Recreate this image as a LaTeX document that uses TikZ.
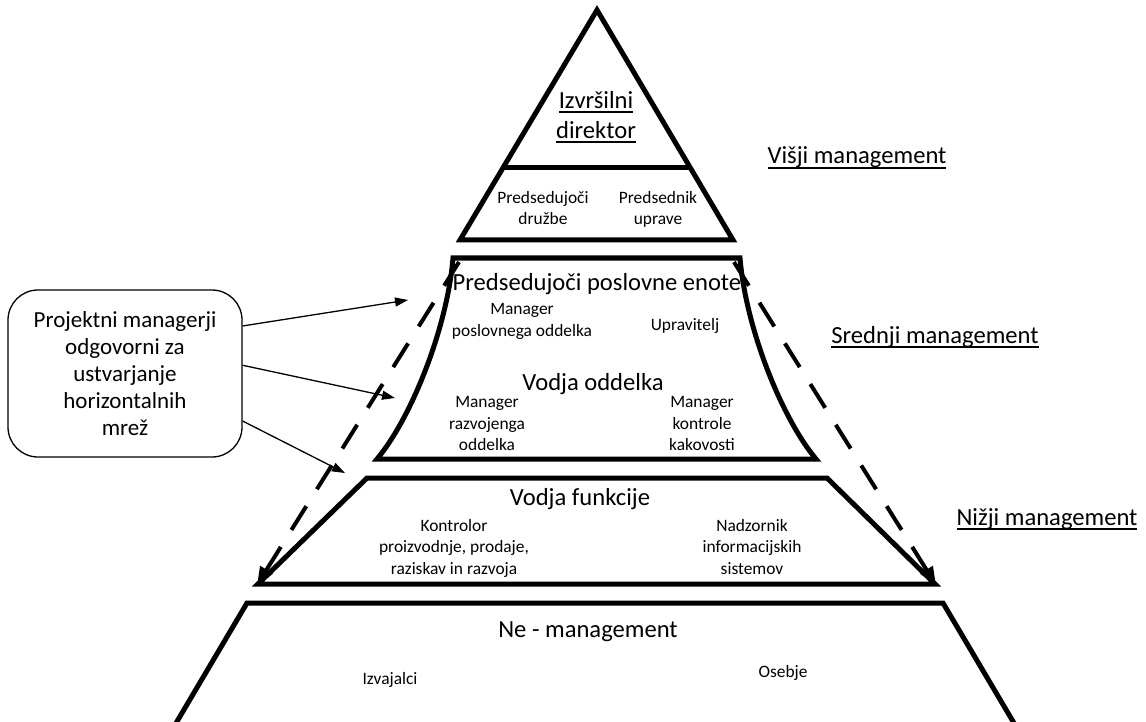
\documentclass[tikz,border=0pt]{standalone}
\usepackage{fontspec}
\setmainfont{Carlito}
\usetikzlibrary{arrows.meta}
% underline drawn at a fixed distance below the baseline
\newcommand\lineunder[1]{\leavevmode\setbox0\hbox{#1}\rlap{\rule[-5pt]{\wd0}{1.8pt}}\box0}
\begin{document}
\begin{tikzpicture}[x=1pt,y=-1pt,
  layer/.style={line width=5pt, line join=miter},
  txt/.style={align=center, inner sep=0pt, execute at begin node=\strut, execute at end node=\strut},
  big/.style={txt, font=\fontsize{24.6}{30}\selectfont},
  small/.style={txt, font=\fontsize{17.4}{21.5}\selectfont},
  guide/.style={line width=4pt, dash pattern=on 28pt off 20pt, -{Triangle[length=18pt,width=14pt]}},
  pointer/.style={line width=1.3pt, -{Triangle[length=13pt,width=9pt]}},
  callout/.style={draw, line width=1.3pt, rounded corners=30pt, minimum width=234pt,
    minimum height=167pt, align=center, inner sep=0pt, font=\fontsize{23}{27}\selectfont}
]
\useasboundingbox (0,0) rectangle (1146,722);

% corners of the pyramid levels
\coordinate (apex) at (597,10);
\coordinate (triL) at (460,240);
\coordinate (triR) at (733,240);
\coordinate (midTL) at (453,258);
\coordinate (midTR) at (740,258);
\coordinate (midBL) at (377,459);
\coordinate (midBR) at (816,459);
\coordinate (lowTL) at (367,478);
\coordinate (lowTR) at (827,478);
\coordinate (lowBL) at (258,584);
\coordinate (lowBR) at (935,584);
\coordinate (baseTL) at (247,603);
\coordinate (baseTR) at (943,603);

% top: executive triangle
\draw[layer] (apex) -- (triR) -- (triL) -- cycle;
\draw[layer] (503,168) -- (690,168);

% middle management block with curved sides
\draw[layer] (midTL) -- (midTR) .. controls (746,330) and (783,420) .. (midBR)
  -- (midBL) .. controls (410,420) and (447,330) .. (midTL) -- cycle;

% lower management block
\draw[layer] (lowTL) -- (lowTR) -- (lowBR) -- (lowBL) -- cycle;

% non-management base (runs off the bottom edge)
\draw[layer] (169,735) -- (baseTL) -- (baseTR) -- (1021,735);

% dashed guides down the flanks
\coordinate (gL) at (459,262);
\coordinate (gR) at (734,262);
\coordinate (gLend) at (257,585);
\coordinate (gRend) at (936,585);
\draw[guide] (gL) -- (gLend);
\draw[guide] (gR) -- (gRend);

% labels inside the pyramid
\node[big] (ceo) at (596,119) {\lineunder{Izvršilni}\\\lineunder{direktor}};
\node[small] (chair) at (543,211) {Predsedujoči\\družbe};
\node[small] (pres) at (658,211) {Predsednik\\uprave};

\node[big] (bu) at (597,285) {Predsedujoči poslovne enote};
\node[small] (mgr1) at (522,323) {Manager\\poslovnega oddelka};
\node[small] (upr) at (685,326) {Upravitelj};
\node[big] (vo) at (593,384) {Vodja oddelka};
\node[small] (mgr2) at (487,427) {Manager\\razvojenga\\oddelka};
\node[small] (mgr3) at (702,427) {Manager\\kontrole\\kakovosti};

\node[big] (vf) at (580,499) {Vodja funkcije};
\node[small] (ctrl) at (454,550) {Kontrolor\\proizvodnje, prodaje,\\raziskav in razvoja};
\node[small] (nadz) at (752,550) {Nadzornik\\informacijskih\\sistemov};

\node[big] (ne) at (588,631) {Ne - management};
\node[small] (izv) at (390,680) {Izvajalci};
\node[small] (ose) at (783,673) {Osebje};

% level names on the right
\node[big] (visji) at (857,158) {\lineunder{Višji management}};
\node[big] (srednji) at (935,337) {\lineunder{Srednji management}};
\node[big] (nizji) at (1047,519) {\lineunder{Nižji management}};

% project managers callout
\node[callout] (pm) at (125,373.5) {Projektni managerji\\odgovorni za\\ustvarjanje\\horizontalnih\\mrež};
\coordinate (t1) at (408,300);
\coordinate (t2) at (395,398);
\coordinate (t3) at (345,473);
\draw[pointer] (pm.22) -- (t1);
\draw[pointer] (pm.4) -- (t2);
\draw[pointer] (pm.-22) -- (t3);
\end{tikzpicture}
\end{document}
